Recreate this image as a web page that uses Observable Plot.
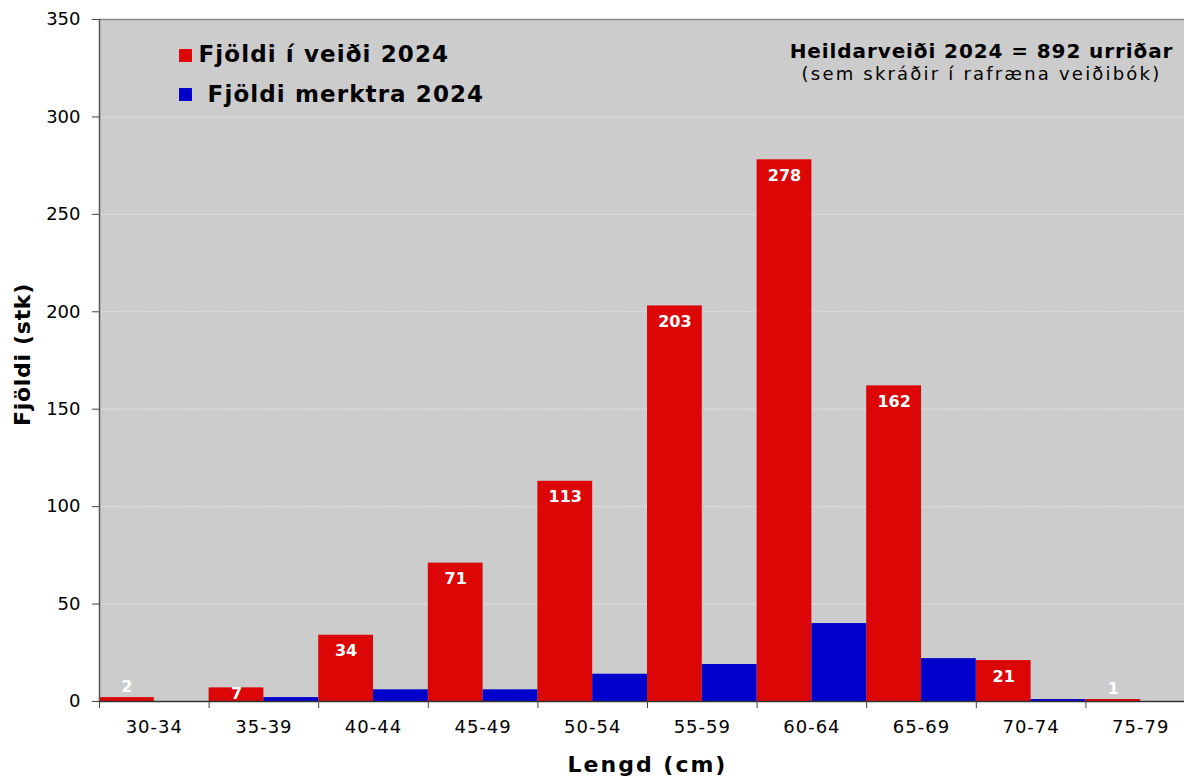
<!DOCTYPE html>
<html>
<head>
<meta charset="utf-8">
<script src="https://cdn.jsdelivr.net/npm/d3@7"></script>
<script src="https://cdn.jsdelivr.net/npm/@observablehq/plot@0.6"></script>
<style>
  html, body { margin: 0; padding: 0; background: #fff; overflow: hidden; }
  text[aria-label="x-labels"] { letter-spacing: 1px; }
  text[aria-label="legend-text"] { letter-spacing: 1.1px; }
  text[aria-label="total"] { letter-spacing: 0.9px; }
  text[aria-label="total-sub"] { letter-spacing: 2.2px; }
  text[aria-label="x-title"] { letter-spacing: 2px; }
  text[aria-label="y-title"] { letter-spacing: 0.7px; }
</style>
</head>
<body>
<div id="chart"></div>
<script>
const categories = ["30-34", "35-39", "40-44", "45-49", "50-54", "55-59", "60-64", "65-69", "70-74", "75-79"];
const veidi = [2, 7, 34, 71, 113, 203, 278, 162, 21, 1];
const merktra = [0, 2, 6, 6, 14, 19, 40, 22, 1, 0];
const yTicks = [0, 50, 100, 150, 200, 250, 300, 350];
const legendLabels = ["Fjöldi í veiði 2024", " Fjöldi merktra 2024"];
const totalText = "Heildarveiði 2024 = 892 urriðar";
const totalSub = "(sem skráðir í rafræna veiðibók)";
const xTitle = "Lengd (cm)";
const yTitle = "Fjöldi (stk)";

const RED = "#dd0606";
const BLUE = "#0000cc";
const FONT = "DejaVu Sans, Verdana, sans-serif";

const rows = categories.map((c, i) => ({i, c, v: veidi[i], m: merktra[i]}));
const labelY = d => d.v < 5 ? d.v + 5.7 : Math.max(d.v - 8.2, 4.1);

const chart = Plot.plot({
  width: 1184,
  height: 776,
  marginLeft: 99,
  marginRight: -11,
  marginTop: 19,
  marginBottom: 75,
  style: {fontFamily: FONT, background: "#fff", color: "#000", overflow: "hidden"},
  x: {domain: [0, categories.length], axis: null},
  y: {domain: [0, 350], axis: null},
  marks: [
    Plot.frame({fill: "#cccccc", stroke: null}),
    Plot.gridY(yTicks.slice(1, -1), {stroke: "#ffffff", strokeOpacity: 0.85, strokeDasharray: "1,1.5"}),
    Plot.ruleY([350], {stroke: "#8a8a8a", strokeWidth: 1.5}),
    Plot.rectY(rows, {x1: d => d.i, x2: d => d.i + 0.5, y1: 0, y2: "v", fill: RED}),
    Plot.rectY(rows, {x1: d => d.i + 0.5, x2: d => d.i + 1, y1: 0, y2: "m", fill: BLUE}),
    Plot.ruleX([0], {stroke: "#555", strokeWidth: 1.5}),
    Plot.ruleY([0], {stroke: "#333", strokeWidth: 1.5}),
    Plot.axisY({ticks: yTicks, tickSize: 7, tickPadding: 12, fontSize: 18, stroke: "#444", label: null, fill: "#000"}),
    Plot.axisX(d3.range(categories.length + 1), {tickSize: 7, tickFormat: () => "", stroke: "#444", label: null}),
    Plot.text(rows, {x: d => d.i + 0.5, y: 0, text: "c", dy: 26, fontSize: 18, lineAnchor: "middle", fill: "#000", ariaLabel: () => "x-labels"}),
    Plot.text(rows, {x: d => d.i + 0.25, y: labelY, text: d => String(d.v), fill: "#fff", fontWeight: "bold", fontSize: 16, lineAnchor: "middle"}),
    // legend
    Plot.dot([RED], {frameAnchor: "top-left", dx: 86, dy: 36, fill: d => d, symbol: "square", r: 7.3, stroke: null}),
    Plot.dot([BLUE], {frameAnchor: "top-left", dx: 86, dy: 75, fill: d => d, symbol: "square", r: 7.3, stroke: null}),
    Plot.text([legendLabels[0]], {frameAnchor: "top-left", dx: 99, dy: 35, text: d => d, fontSize: 23, fontWeight: "bold", textAnchor: "start", lineAnchor: "middle", fill: "#000", ariaLabel: () => "legend-text"}),
    Plot.text([legendLabels[1]], {frameAnchor: "top-left", dx: 99, dy: 75, text: d => d, fontSize: 23, fontWeight: "bold", textAnchor: "start", lineAnchor: "middle", fill: "#000", ariaLabel: () => "legend-text"}),
    Plot.text([totalText], {frameAnchor: "top-left", dx: 882, dy: 32, fontSize: 20, fontWeight: "bold", textAnchor: "middle", lineAnchor: "middle", fill: "#000", ariaLabel: () => "total"}),
    Plot.text([totalSub], {frameAnchor: "top-left", dx: 882, dy: 55, fontSize: 18, textAnchor: "middle", lineAnchor: "middle", fill: "#000", ariaLabel: () => "total-sub"}),
    Plot.text([xTitle], {frameAnchor: "bottom", dy: 63, fontSize: 22, fontWeight: "bold", textAnchor: "middle", lineAnchor: "middle", fill: "#000", ariaLabel: () => "x-title"}),
    Plot.text([yTitle], {frameAnchor: "left", dx: -77, dy: -6, rotate: -90, fontSize: 22, fontWeight: "bold", textAnchor: "middle", lineAnchor: "middle", fill: "#000", ariaLabel: () => "y-title"})
  ]
});
document.getElementById("chart").appendChild(chart);
</script>
</body>
</html>
